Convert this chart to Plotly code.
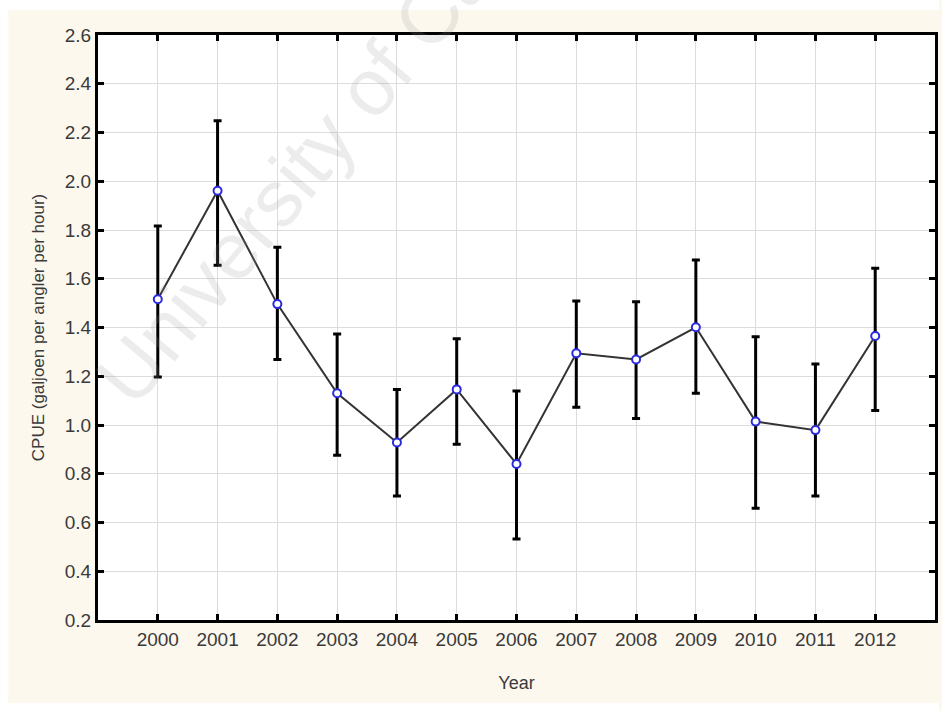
import math
import plotly.graph_objects as go

years = [2000, 2001, 2002, 2003, 2004, 2005, 2006, 2007, 2008, 2009, 2010, 2011, 2012]
cpue = [1.516, 1.961, 1.496, 1.130, 0.928, 1.146, 0.840, 1.294, 1.269, 1.401, 1.014, 0.979, 1.365]
upper = [1.816, 2.248, 1.729, 1.373, 1.146, 1.354, 1.139, 1.509, 1.506, 1.677, 1.362, 1.250, 1.643]
lower = [1.197, 1.655, 1.269, 0.876, 0.709, 0.921, 0.532, 1.073, 1.027, 1.130, 0.658, 0.709, 1.059]
y_ticks = [0.2, 0.4, 0.6, 0.8, 1.0, 1.2, 1.4, 1.6, 1.8, 2.0, 2.2, 2.4, 2.6]

err_plus = [u - v for u, v in zip(upper, cpue)]
err_minus = [v - l for v, l in zip(cpue, lower)]

W, H = 942, 711
ML, MR, MT, MB = 98, 4, 35, 91
PW, PH = W - ML - MR, H - MT - MB
font_family = "Liberation Sans, Arial, sans-serif"


def px(x):
    return (x - ML) / PW


def py(y):
    return (H - MB - y) / PH


# watermark placement (screen pixels)
wm_size = 80
wm_angle = 50
wm_len = 10.892 * wm_size
sx, sy = 132, 414
a = math.radians(wm_angle)
cx = sx + wm_len / 2 * math.cos(a) - 0.35 * wm_size * math.sin(a)
cy = sy - wm_len / 2 * math.sin(a) - 0.35 * wm_size * math.cos(a)

fig = go.Figure()
fig.add_trace(go.Scatter(
    x=years, y=cpue, mode="lines+markers",
    line=dict(color="#333333", width=2),
    marker=dict(symbol="circle", size=8, color="white",
                line=dict(color="#2a2ae0", width=2)),
    error_y=dict(type="data", symmetric=False, array=err_plus, arrayminus=err_minus,
                 color="black", thickness=3, width=4),
    showlegend=False,
))

white_strip = dict(fillcolor="white", line=dict(width=0), layer="below",
                   type="rect", xref="paper", yref="paper")
fig.update_layout(
    width=W, height=H,
    margin=dict(l=ML, r=MR, t=MT, b=MB),
    paper_bgcolor="#fcf8ee",
    plot_bgcolor="white",
    font=dict(family=font_family, color="#3a3a3a"),
    shapes=[
        dict(white_strip, x0=px(0), x1=px(W), y0=py(10), y1=py(0)),
        dict(white_strip, x0=px(0), x1=px(8), y0=py(H), y1=py(0)),
        dict(white_strip, x0=px(0), x1=px(W), y0=py(H), y1=py(703)),
    ],
    xaxis=dict(
        range=[1999, 2013], tickmode="array", tickvals=years,
        ticktext=[str(y) for y in years],
        showgrid=True, gridcolor="#dcdcdc", gridwidth=1,
        showline=True, linecolor="black", linewidth=3, mirror="ticks",
        ticks="inside", ticklen=6, tickwidth=3, tickcolor="black",
        tickfont=dict(size=19, color="#3a3a3a"),
        title=dict(text="Year", font=dict(size=18, color="#3a3a3a"), standoff=28),
        zeroline=False,
    ),
    yaxis=dict(
        range=[0.2, 2.6], tickmode="array", tickvals=y_ticks,
        ticktext=[f"{v:.1f}" for v in y_ticks],
        showgrid=True, gridcolor="#dcdcdc", gridwidth=1,
        showline=True, linecolor="black", linewidth=3, mirror="ticks",
        ticks="inside", ticklen=6, tickwidth=3, tickcolor="black",
        tickfont=dict(size=19, color="#3a3a3a"),
        title=dict(text="CPUE (galjoen per angler per hour)",
                   font=dict(size=17, color="#3a3a3a"), standoff=16),
        zeroline=False,
    ),
    annotations=[dict(
        text="University of Cape Town", xref="paper", yref="paper",
        x=px(cx), y=py(cy), xanchor="center", yanchor="middle", showarrow=False,
        textangle=-wm_angle,
        font=dict(size=wm_size, family=font_family, color="rgba(150,150,150,0.18)"),
    )],
)

fig.write_html("out.html")
